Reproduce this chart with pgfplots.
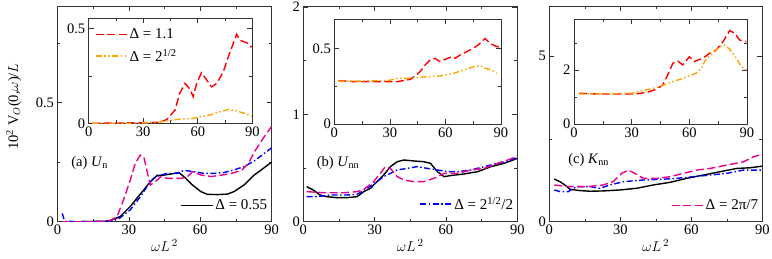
\documentclass[border=0pt]{standalone}
\usepackage{fontspec}
\setmainfont{Liberation Serif}
\usepackage{pgfplots}
\pgfplotsset{compat=1.18}
\definecolor{myorange}{RGB}{255,165,0}
\pgfplotsset{
  base/.style={
    scale only axis,
    xmin=0, xmax=90,
    xtick={0,30,60,90}, minor xtick={15,45,75},
    tick align=inside,
    major tick length=5pt, minor tick length=3pt,
    axis line style={black!80, line width=0.8pt},
    every tick/.style={black!80, line width=0.6pt},
    /pgf/number format/assume math mode=true,
    ticklabel style={font=\fontsize{14.5}{16}\selectfont},
    legend style={draw=none, fill=none, font=\fontsize{15}{17}\selectfont, inner sep=1pt},
    legend cell align=left,
    legend image code/.code={\draw[##1] (0cm,0cm) -- (0.9cm,0cm); \path (0cm,0cm) -- (1.1cm,0cm);},
    axis background/.style={fill=white},
  },
  mainax/.style={base, width=214pt, height=215.7pt,
    xlabel={$\omega L^{\,2}$},
    xlabel style={font=\fontsize{15}{17}\selectfont, at={(axis description cs:0.5,-0.08)}, anchor=north, inner sep=0pt},
  },
  inax/.style={base, height=105pt},
  sblack/.style={black, line width=1.4pt},
  sblue/.style={blue, line width=1.4pt, dash pattern=on 6pt off 2.5pt on 1.5pt off 2.5pt},
  smag/.style={magenta, line width=1.4pt, dash pattern=on 8pt off 3.5pt},
  sred/.style={red, line width=1.4pt, dash pattern=on 8pt off 3.5pt},
  sorange/.style={myorange, line width=1.4pt, dash pattern=on 6pt off 2.5pt on 1.5pt off 2.5pt on 1.5pt off 2.5pt},
}
\begin{document}
\begin{tikzpicture}
\path[use as bounding box] (0,0) rectangle (772pt,258pt);

% ---------- panel (a)
\begin{axis}[mainax, at={(57.5pt,36.3pt)}, anchor=south west,
  ymin=0, ymax=0.907, ytick={0,0.5}, minor ytick={0.25,0.75},
  yticklabels={0,0.5},
  ylabel={10\textsuperscript{2} V$_{O}$(0,$\omega$)/$L$},
  ylabel style={font=\fontsize{14.5}{16}\selectfont, at={(axis description cs:-0.205,0.534)}, anchor=center, rotate=0},
  legend style={at={(axis description cs:0.995,0.035)}, anchor=south east}]
\addplot[sblack] coordinates {(2,0) (10,0) (20,0.002) (22,0.004) (26.4,0.022) (30.6,0.064) (33.5,0.1) (36.3,0.134) (39.1,0.169) (41.9,0.195) (44.7,0.196) (47.5,0.2) (51,0.207) (53.9,0.183) (56.7,0.155) (60.2,0.127) (63,0.115) (67.3,0.114) (71.5,0.116) (74.3,0.127) (78.5,0.155) (82.7,0.196) (86,0.22) (90,0.25)};
\addlegendentry{Δ = 0.55}
\addplot[sblue, forget plot] coordinates {(2,0.035) (3,0.002) (10,0) (20,0.001) (24,0.006) (26,0.014) (30.6,0.05) (34.9,0.106) (37.7,0.148) (40.5,0.183) (43.3,0.196) (46.1,0.203) (50.4,0.203) (53.2,0.216) (57.4,0.21) (61.7,0.203) (65.9,0.203) (70.1,0.207) (74.3,0.218) (78.5,0.232) (82.7,0.255) (86,0.28) (90,0.31)};
\addplot[smag, forget plot] coordinates {(2,0) (10,0) (20,0.002) (22,0.005) (25,0.02) (27.7,0.09) (30.6,0.175) (32.7,0.245) (34.8,0.28) (36.3,0.273) (37.7,0.21) (39.1,0.154) (41.9,0.175) (43.4,0.189) (46.2,0.182) (49,0.182) (51.9,0.182) (54.7,0.19) (56.9,0.21) (60.4,0.196) (64.7,0.19) (69,0.196) (73.2,0.203) (77.5,0.217) (80.3,0.245) (83.2,0.3) (87,0.358) (90,0.40)};
\node[font=\fontsize{14.5}{16}\selectfont] at (axis description cs:0.15,0.272) {(a) \textit{U}$_{\mathrm{n}}$};
\end{axis}
\begin{axis}[inax, at={(88.7pt,134.7pt)}, anchor=south west, width=163.6pt,
  ymin=0, ymax=0.553, ytick={0,0.5}, minor ytick={0.25}, yticklabels={0,0.5},
  legend style={at={(axis description cs:0.03,0.93)}, anchor=north west, row sep=5pt}]
\addplot[sred] coordinates {(2,0) (20,0.002) (39,0.005) (43,0.02) (47.5,0.07) (50,0.157) (53,0.21) (55.7,0.18) (57.5,0.14) (59.4,0.21) (62,0.266) (65,0.227) (67.6,0.192) (70.4,0.21) (74,0.27) (76.8,0.35) (79.5,0.42) (81.4,0.469) (83.2,0.437) (85.9,0.428) (87.8,0.42) (89.6,0.40)};
\addlegendentry{Δ = 1.1}
\addplot[sorange] coordinates {(2,0) (20,0) (35,0.003) (42,0.01) (48,0.02) (57.5,0.026) (66.7,0.044) (72,0.06) (76.8,0.073) (81,0.066) (85.9,0.052) (89.6,0.038)};
\addlegendentry{Δ = 2\textsuperscript{1/2}}
\end{axis}

% ---------- panel (b)
\begin{axis}[mainax, at={(303.3pt,36.3pt)}, anchor=south west,
  ymin=0, ymax=2.01, ytick={0,1,2}, minor ytick={0.5,1.5},
  legend style={at={(axis description cs:0.995,0.035)}, anchor=south east}]
\addplot[sblack, forget plot] coordinates {(1.4,0.326) (4.2,0.295) (7,0.249) (9.9,0.233) (14.1,0.224) (18.3,0.224) (22.6,0.233) (25.4,0.28) (28.2,0.31) (31,0.373) (33.8,0.435) (36.6,0.513) (39.5,0.559) (42.3,0.575) (46.5,0.566) (50.7,0.559) (53.5,0.544) (56.4,0.466) (59.2,0.42) (62,0.43) (67.6,0.445) (73.3,0.466) (78.9,0.513) (84.5,0.544) (90,0.59)};
\addplot[sblue] coordinates {(1.4,0.233) (5.7,0.233) (11.3,0.249) (18.3,0.249) (22.6,0.255) (26.8,0.31) (31,0.373) (33.8,0.42) (36.6,0.45) (39.5,0.482) (43.7,0.497) (47.9,0.513) (52.1,0.497) (56.4,0.482) (60.6,0.466) (64.8,0.466) (70.5,0.482) (76.1,0.513) (81.7,0.544) (86,0.559) (90,0.606)};
\addlegendentry{Δ = 2\textsuperscript{1/2}/2}
\addplot[smag, forget plot] coordinates {(1.4,0.28) (8.5,0.27) (17,0.27) (22.6,0.28) (25.4,0.3) (29.6,0.373) (32.4,0.45) (34.5,0.513) (36.6,0.497) (39.5,0.42) (42.3,0.389) (46.5,0.373) (50.7,0.373) (54.9,0.404) (59.2,0.45) (64.8,0.45) (70.5,0.482) (76.1,0.497) (81.7,0.544) (86,0.575) (90,0.61)};
\node[font=\fontsize{14.5}{16}\selectfont] at (axis description cs:0.162,0.272) {(b) \textit{U}$_{\mathrm{nn}}$};
\end{axis}
\begin{axis}[inax, at={(334.3pt,134pt)}, anchor=south west, width=166.7pt,
  ymin=0, ymax=0.697, ytick={0,0.5}, minor ytick={0.25}, yticklabels={0,0.5}]
\addplot[sred] coordinates {(2.2,0.288) (10.3,0.281) (17.5,0.281) (26.5,0.281) (33.7,0.281) (37.3,0.288) (40.9,0.296) (43.6,0.319) (46.3,0.347) (49,0.392) (51.7,0.425) (54.4,0.436) (57,0.414) (59.8,0.429) (63.4,0.447) (65.2,0.436) (67.9,0.458) (71.5,0.48) (75.1,0.502) (78.7,0.535) (81.4,0.568) (84.1,0.535) (86.8,0.518) (89.5,0.509)};
\addplot[sorange] coordinates {(2.2,0.285) (15,0.285) (30,0.29) (33.7,0.303) (40.9,0.303) (49.9,0.314) (57,0.319) (64.3,0.336) (69.7,0.358) (75.1,0.38) (78.7,0.387) (81.4,0.37) (85,0.358) (87.7,0.336)};
\end{axis}

% ---------- panel (c)
\begin{axis}[mainax, at={(549.3pt,36.3pt)}, anchor=south west, width=213pt,
  ymin=0, ymax=6.52, ytick={0,5}, minor ytick={2.5},
  legend style={at={(axis description cs:0.995,0.035)}, anchor=south east}]
\addplot[sblack, forget plot] coordinates {(2.1,1.29) (4.5,1.21) (6.6,1.11) (8.7,0.98) (13,0.94) (17.2,0.92) (22.8,0.93) (29.9,0.96) (36.9,1.01) (43.9,1.11) (51,1.19) (58,1.31) (65.1,1.41) (72.1,1.51) (79.2,1.61) (84.8,1.63) (90,1.68)};
\addplot[sblue, forget plot] coordinates {(2.1,0.96) (4.5,0.91) (8,0.91) (11.5,1.06) (17.2,1.06) (21.4,1.01) (25.6,1.11) (31.3,1.21) (39.7,1.26) (46.8,1.28) (53.8,1.31) (60.8,1.36) (67.9,1.41) (74.9,1.46) (82,1.56) (90,1.56)};
\addplot[smag] coordinates {(2.1,1.11) (8.7,1.06) (15.8,1.06) (22.8,1.11) (27,1.21) (30.6,1.46) (33.4,1.56) (36.2,1.46) (39.7,1.31) (45.4,1.31) (51,1.36) (56.6,1.46) (62.3,1.56) (67.9,1.61) (74.9,1.71) (82,1.81) (86.2,1.96) (90,2.04)};
\addlegendentry{Δ = 2π/7}
\node[font=\fontsize{14.5}{16}\selectfont] at (axis description cs:0.185,0.286) {(c) \textit{K}$_{\mathrm{nn}}$};
\end{axis}
\begin{axis}[inax, at={(574pt,134pt)}, anchor=south west, width=173pt,
  ymin=0, ymax=3.89, ytick={0,2}, minor ytick={1,3}]
\addplot[sred] coordinates {(2.6,1.14) (13,1.11) (30.5,1.11) (37.4,1.16) (42.6,1.28) (46.1,1.44) (48.7,1.81) (51.4,2.25) (54,2.33) (56.6,2.19) (60,2.49) (62.7,2.31) (64.4,2.37) (67,2.43) (70.5,2.62) (74,2.74) (77.5,3.05) (81,3.46) (83.6,3.36) (86.2,3.11) (89.6,3.05)};
\addplot[sorange] coordinates {(2.6,1.11) (15,1.12) (30,1.14) (37.4,1.26) (44.4,1.38) (49.6,1.53) (56.6,1.69) (63.5,1.88) (66.2,2.06) (68.8,2.43) (72.3,2.62) (75.7,2.86) (78.3,2.93) (81,2.77) (84.5,2.43) (87.1,2.12) (89.6,2)};
\end{axis}
\end{tikzpicture}
\end{document}
